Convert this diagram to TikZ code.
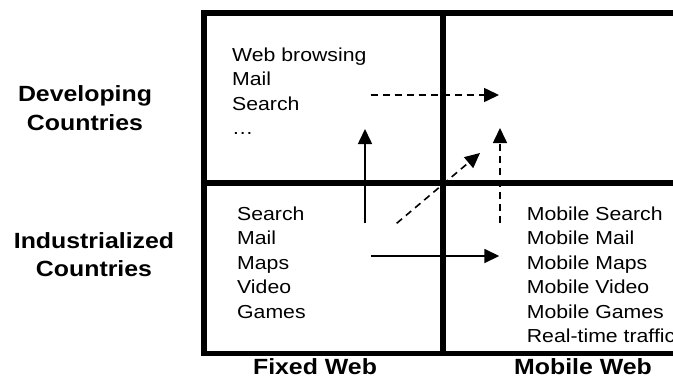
\documentclass[tikz,border=0pt]{standalone}
\usepackage{fontspec}
\setmainfont[FakeStretch=1.13]{Liberation Sans}
\usetikzlibrary{arrows.meta}
\begin{document}
\begin{tikzpicture}[x=1pt,y=-1pt,
  body/.style={anchor=base west, inner sep=0pt, font=\fontsize{18.8}{24}\selectfont},
  lab/.style={anchor=base, inner sep=0pt, font=\fontsize{22}{28}\selectfont\bfseries},
  frameline/.style={line width=5.5pt, line join=miter},
  arr/.style={line width=1.6pt, -{Triangle[length=15pt,width=14pt]}},
  darr/.style={arr, dash pattern=on 7pt off 5pt}]
\useasboundingbox (0,0) rectangle (673,383);
\clip (0,0) rectangle (673,383);
% frame
\draw[frameline] (680,13) -- (204,13) -- (204,353.5) -- (680,353.5);
\draw[frameline] (443,13) -- (443,353.5);
\draw[frameline] (204,183) -- (680,183);
% row / column labels
\node[lab] (dev1) at (85,101.7) {Developing};
\node[lab] (dev2) at (85,130) {Countries};
\node[lab] (ind1) at (94,248.3) {Industrialized};
\node[lab] (ind2) at (94,276.5) {Countries};
\node[lab] (fixed) at (315,374) {Fixed Web};
\node[lab] (mobile) at (583,374) {Mobile Web};
% top-left list
\node[body] (tl1) at (232,61.5) {Web browsing};
\node[body] (tl2) at (232,85.7) {Mail};
\node[body] (tl3) at (232,110) {Search};
\node[body] (tl4) at (232,134) {\dots};
% bottom-left list
\foreach \t [count=\i] in {Search,Mail,Maps,Video,Games}
  \node[body] (bl\i) at (237,{220+24.5*(\i-1)}) {\t};
% bottom-right list
\foreach \t [count=\i] in {Mobile Search,Mobile Mail,Mobile Maps,Mobile Video,Mobile Games,Real-time traffic}
  \node[body] (br\i) at (526.7,{220+24.5*(\i-1)}) {\t};
% arrow end points
\coordinate (a1s) at (370.7,95);   \coordinate (a1e) at (499,95);
\coordinate (a2s) at (365,223);    \coordinate (a2e) at (365,129);
\coordinate (a3s) at (500,223);    \coordinate (a3e) at (500,128);
\coordinate (a4s) at (396.7,223.3);\coordinate (a4e) at (480,153);
\coordinate (a5s) at (370.7,256);  \coordinate (a5e) at (499.3,256);
\draw[darr] (a1s) -- (a1e);
\draw[arr]  (a2s) -- (a2e);
\draw[darr] (a3s) -- (a3e);
\draw[darr] (a4s) -- (a4e);
\draw[arr]  (a5s) -- (a5e);
\end{tikzpicture}
\end{document}
